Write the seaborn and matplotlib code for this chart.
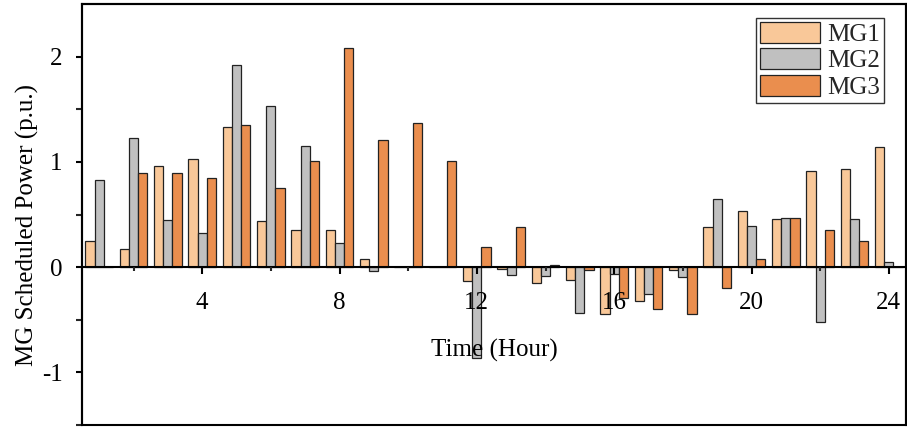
import numpy as np
import pandas as pd
import matplotlib
matplotlib.use("Agg")
import matplotlib.pyplot as plt
import seaborn as sns
from matplotlib.patches import Rectangle
from matplotlib.ticker import FixedLocator

hours = list(range(1, 25))
mg1 = [0.25, 0.17, 0.965, 1.03, 1.33, 0.435, 0.35, 0.35, 0.076, 0.0, 0.0, -0.13,
       -0.02, -0.155, -0.127, -0.45, -0.325, -0.03, 0.385, 0.535, 0.455, 0.915, 0.93, 1.145]
mg2 = [0.83, 1.23, 0.45, 0.32, 1.92, 1.53, 1.15, 0.23, -0.04, 0.0, 0.0, -0.86,
       -0.075, -0.085, -0.44, -0.07, -0.255, -0.09, 0.645, 0.39, 0.47, -0.52, 0.455, 0.045]
mg3 = [0.0, 0.89, 0.89, 0.85, 1.35, 0.75, 1.01, 2.08, 1.21, 1.37, 1.01, 0.19,
       0.385, 0.02, -0.025, -0.29, -0.40, -0.45, -0.20, 0.08, 0.465, 0.35, 0.25, 0.0]
series_names = ["MG1", "MG2", "MG3"]
colors = ["#F9C899", "#C0C0C0", "#EA8E4E"]
x_major = [4, 8, 12, 16, 20, 24]
x_minor = [2, 6, 10, 14, 18, 22]
y_major = [-1, 0, 1, 2]
y_minor = [-1.5, -0.5, 0.5, 1.5]

df = pd.DataFrame({
    "Hour": hours * 3,
    "Power": mg1 + mg2 + mg3,
    "MG": [n for n in series_names for _ in hours],
})

sns.set_theme(style="white")
plt.rcParams["font.family"] = ["Liberation Serif", "DejaVu Serif"]
plt.rcParams["axes.axisbelow"] = False

fig = plt.figure(figsize=(9.07, 4.29), dpi=100)
ax = fig.add_axes([82 / 907, 4 / 429, 824 / 907, 421 / 429])

sns.barplot(data=df, x="Hour", y="Power", hue="MG", hue_order=series_names,
            palette=colors, native_scale=True, width=0.81, dodge=True,
            edgecolor="#222222", linewidth=0.9, saturation=1, errorbar=None,
            ax=ax, zorder=1)

ax.set_xlim(0.5, 24.5)
ax.set_ylim(-1.5, 2.5)

ax.xaxis.set_major_locator(FixedLocator(x_major))
ax.xaxis.set_minor_locator(FixedLocator(x_minor))
ax.yaxis.set_major_locator(FixedLocator(y_major))
ax.yaxis.set_minor_locator(FixedLocator(y_minor))
ax.set_xticklabels([str(v) for v in x_major])
ax.set_yticklabels([str(v) for v in y_major])

for s in ax.spines.values():
    s.set_linewidth(1.5)
    s.set_color("black")
ax.spines["bottom"].set_position(("data", 0))
ax.add_patch(Rectangle((0, 0), 1, 1, transform=ax.transAxes, fill=False,
                       lw=1.5, edgecolor="black", clip_on=False, zorder=3))

ax.tick_params(axis="x", which="major", direction="out", length=5, width=1.5,
               pad=13, labelsize=18, colors="black", bottom=True)
ax.tick_params(axis="x", which="minor", direction="out", length=3, width=1.5,
               bottom=True)
ax.tick_params(axis="y", which="major", direction="out", length=4, width=1.5,
               pad=10, labelsize=18, colors="black", left=True)
ax.tick_params(axis="y", which="minor", direction="out", length=4, width=1.5,
               left=True)

ax.set_xlabel("Time (Hour)", fontsize=18, color="black")
ax.xaxis.set_label_coords(0.5, 0.205)
ax.xaxis.label.set_va("top")
ax.set_ylabel("MG Scheduled Power (p.u.)", fontsize=18, color="black")
ax.yaxis.set_label_coords(-0.052, 0.475)

handles, labels = ax.get_legend_handles_labels()
leg = ax.legend(handles=handles, labels=labels, loc="upper right",
                bbox_to_anchor=(0.973, 0.967), borderaxespad=0, fontsize=18,
                frameon=True, fancybox=False, edgecolor="black",
                handlelength=2.4, handleheight=0.92, labelspacing=0.1,
                handletextpad=0.3, borderpad=0.15, title=None)
leg.get_frame().set_linewidth(1.0)
for h, c in zip(leg.legend_handles, colors):
    h.set_facecolor(c)
    h.set_edgecolor("#222222")
    h.set_linewidth(0.9)

fig.savefig("out.png", dpi=100)
